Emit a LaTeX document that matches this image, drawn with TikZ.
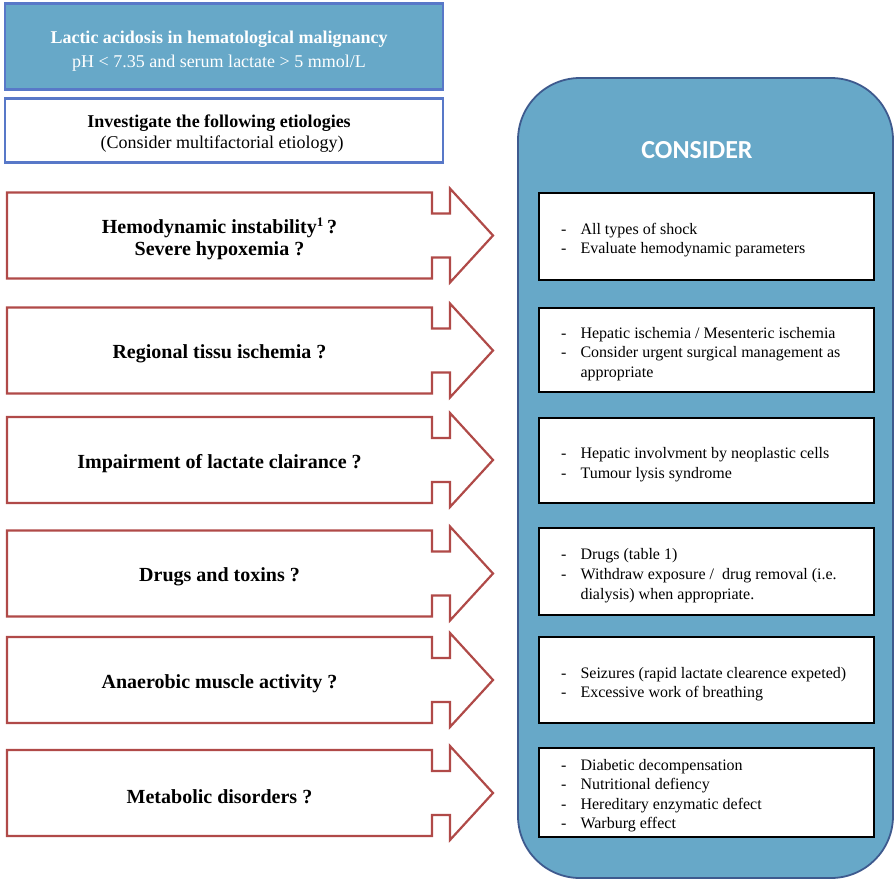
\documentclass[tikz,border=0pt]{standalone}
\usepackage{fontspec}
\setmainfont{Liberation Serif}
\newfontfamily\calibri{Carlito}
\usetikzlibrary{calc}
\definecolor{fillblue}{RGB}{103,168,200}
\definecolor{edgeblue}{RGB}{88,120,200}
\definecolor{bigedge}{RGB}{62,90,142}
\definecolor{arrowred}{RGB}{176,74,72}
\tikzset{
  topbox/.style={draw=edgeblue, line width=2.6pt, minimum width=438pt, inner sep=0pt, outer sep=0pt, align=center},
  bodybox/.style={draw=none, minimum width=425pt, minimum height=86pt, inner sep=0pt, outer sep=0pt, align=center,
    font=\bfseries\fontsize{20}{22}\selectfont},
  arrowline/.style={draw=arrowred, line width=2.2pt, line join=miter, fill=white},
  rbox/.style={draw=black, line width=1.8pt, fill=white, minimum width=335pt, minimum height=86pt, inner sep=0pt, outer sep=0pt},
  rtext/.style={anchor=west, inner sep=0pt, font=\fontsize{16}{19.6}\selectfont},
}
\newcommand\calloutarrow[1]{%
  \draw[arrowline] (#1.north west) -- (#1.north east) -- ++(0,21) -- ++(18,0) -- ++(0,-25)
    -- ($(#1.east)+(61,0)$) -- ($(#1.south east)+(18,4)$) -- ++(0,-25) -- ++(-18,0)
    -- (#1.south east) -- (#1.south west) -- cycle;}
\newcommand\itm[1]{- & #1}
\begin{document}
\begin{tikzpicture}[x=1pt,y=-1pt]
\useasboundingbox (0,0) rectangle (896,883);
% top boxes
\node[topbox, fill=fillblue, minimum height=86pt] (title) at (224,46.5) {};
\node[text=white, align=center, inner sep=0pt, font=\fontsize{18}{24}\selectfont] (titletext) at (219,51)
  {\textbf{Lactic acidosis in hematological malignancy}\\pH < 7.35 and serum lactate > 5 mmol/L};
\node[topbox, fill=white, minimum height=64pt] (invest) at (224,130.5) {};
\node[align=center, inner sep=0pt, font=\fontsize{18}{21.5}\selectfont] (investtext) at (219,133.5)
  {\textbf{Investigate the following etiologies}\\\hspace*{6pt}(Consider multifactorial etiology)};
% big consider box
\node[draw=bigedge, line width=1.8pt, fill=fillblue, rounded corners=62pt, minimum width=375pt, minimum height=800pt,
  inner sep=0pt, outer sep=0pt] (consider) at (705.5,478) {};
\node[text=white, font=\calibri\bfseries\fontsize{26}{30}\selectfont, inner sep=0pt] (considertitle) at (697,150) {CONSIDER};
% left arrows
\node[bodybox] (e1) at (219.5,235.5) {};
\node[bodybox] (e2) at (219.5,350.5) {};
\node[bodybox] (e3) at (219.5,460) {};
\node[bodybox] (e4) at (219.5,573.5) {};
\node[bodybox] (e5) at (219.5,680) {};
\node[bodybox] (e6) at (219.5,793) {};
\foreach \n in {e1,e2,e3,e4,e5,e6} {\calloutarrow{\n}}
\node[bodybox, yshift=-3.5pt] (l1) at (e1) {Hemodynamic instability\textsuperscript{\fontsize{13}{13}\selectfont 1}\,?\\Severe hypoxemia ?};
\node[bodybox, yshift=-3.5pt] (l2) at (e2) {Regional tissu ischemia ?};
\node[bodybox, yshift=-3.5pt] (l3) at (e3) {Impairment of lactate clairance ?};
\node[bodybox, yshift=-3.5pt] (l4) at (e4) {Drugs and toxins ?};
\node[bodybox, yshift=-3.5pt] (l5) at (e5) {Anaerobic muscle activity ?};
\node[bodybox, yshift=-3.5pt] (l6) at (e6) {Metabolic disorders ?};
% right boxes
\node[rbox, minimum height=87pt] (r1) at (706.5,236.5) {};
\node[rbox, minimum height=84pt] (r2) at (706.5,350) {};
\node[rbox, minimum height=85pt] (r3) at (706.5,460.5) {};
\node[rbox, minimum height=87pt] (r4) at (706.5,571.5) {};
\node[rbox, minimum height=86pt] (r5) at (706.5,680) {};
\node[rbox, minimum height=89pt] (r6) at (706.5,792.5) {};
\node[rtext] (t1) at ($(r1.west)+(22,3.5)$) {\begin{tabular}{@{}l@{\hspace{14pt}}l@{}}\itm{All types of shock}\\\itm{Evaluate hemodynamic parameters}\end{tabular}};
\node[rtext] (t2) at ($(r2.west)+(22,4)$) {\begin{tabular}{@{}l@{\hspace{14pt}}l@{}}\itm{Hepatic ischemia / Mesenteric ischemia}\\\itm{Consider urgent surgical management as}\\ & appropriate\end{tabular}};
\node[rtext] (t3) at ($(r3.west)+(22,4)$) {\begin{tabular}{@{}l@{\hspace{14pt}}l@{}}\itm{Hepatic involvment by neoplastic cells}\\\itm{Tumour lysis syndrome}\end{tabular}};
\node[rtext] (t4) at ($(r4.west)+(22,4)$) {\begin{tabular}{@{}l@{\hspace{14pt}}l@{}}\itm{Drugs (table 1)}\\\itm{Withdraw exposure /\ \ drug removal (i.e.}\\ & dialysis) when appropriate.\end{tabular}};
\node[rtext] (t5) at ($(r5.west)+(22,4)$) {\begin{tabular}{@{}l@{\hspace{14pt}}l@{}}\itm{Seizures (rapid lactate clearence expeted)}\\\itm{Excessive work of breathing}\end{tabular}};
\node[rtext] (t6) at ($(r6.west)+(22,3)$) {\begin{tabular}{@{}l@{\hspace{14pt}}l@{}}\itm{Diabetic decompensation}\\\itm{Nutritional defiency}\\\itm{Hereditary enzymatic defect}\\\itm{Warburg effect}\end{tabular}};
\end{tikzpicture}
\end{document}
